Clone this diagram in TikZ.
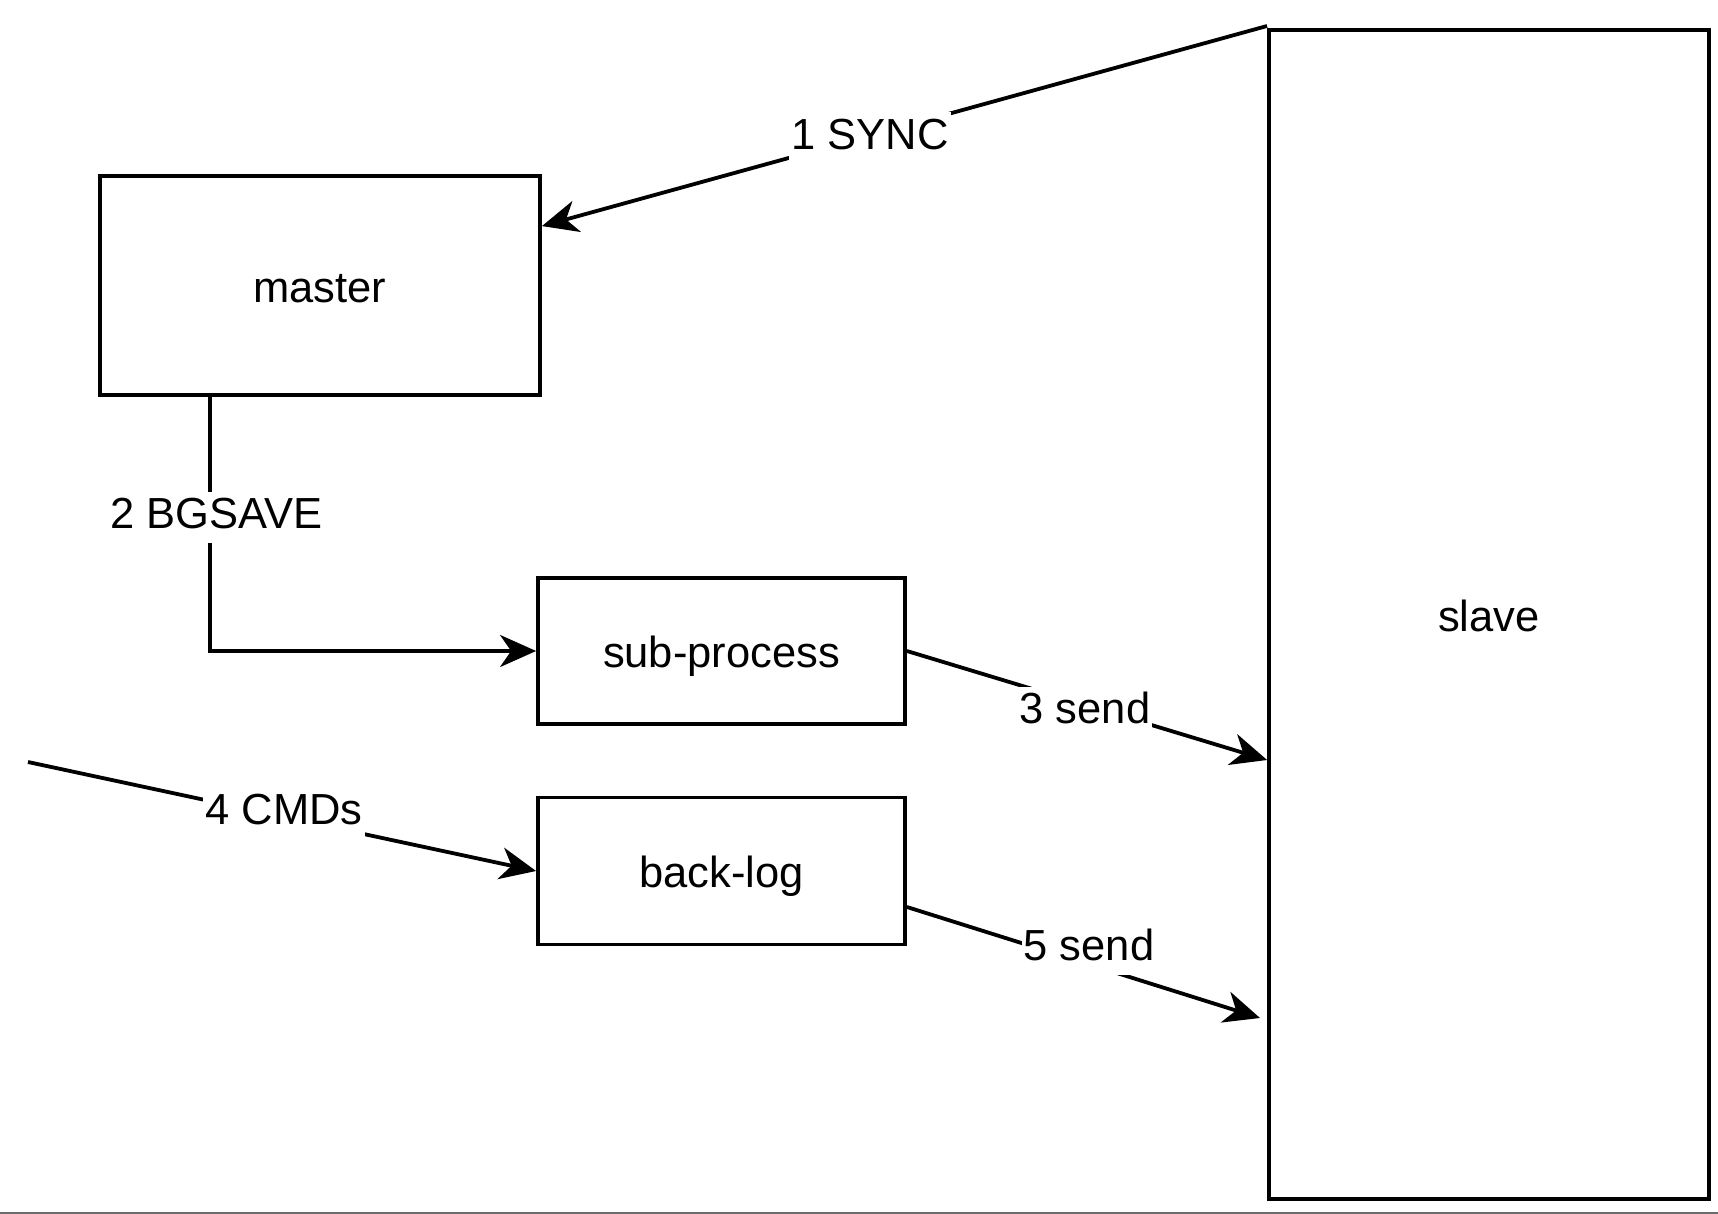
\documentclass[tikz,border=0pt]{standalone}
\usepackage{fontspec}
\setmainfont{Liberation Sans}
\usetikzlibrary{arrows.meta}
\begin{document}
\begin{tikzpicture}[x=0.5pt,y=-0.5pt,
  every node/.style={font=\fontsize{21.75}{26}\selectfont},
  box/.style={draw=black,line width=1.9pt,fill=white,inner sep=0pt,text height=16.5pt,text depth=0pt},
  conn/.style={line width=1.9pt,-{Stealth[length=18pt,width=16pt,inset=5.5pt]}},
  lbl/.style={fill=white,inner xsep=1pt,inner ysep=1pt,text height=17.5pt,text depth=6pt}]
\useasboundingbox (0,0) rectangle (1718,1214);
\fill[white] (0,0) rectangle (1718,1214);
\fill[black!58] (0,1211.5) rectangle (1718,1214);
% boxes
\node[box,minimum width=220pt,minimum height=109.5pt] (master) at (320,285.5) {master};
\node[box,minimum width=183.5pt,minimum height=73pt] (sub) at (721.5,651) {sub-process};
\node[box,minimum width=183.5pt,minimum height=73.5pt] (back) at (721.5,871) {back-log};
\node[box,minimum width=220pt,minimum height=584.5pt] (slave) at (1489,614.5) {slave};
% free ends
\coordinate (s1) at (1267,26);
\coordinate (c4) at (28,762);
\coordinate (e5) at (1260,1018);
% connectors
\draw[conn] (s1) -- ([yshift=-26pt]master.north east);
\draw[conn] ([xshift=-55pt]master.south) |- (sub.west);
\draw[conn] (sub.east) -- ([yshift=-72.75pt]slave.west);
\draw[conn] (c4) -- (back.west);
\draw[conn] ([yshift=-18pt]back.east) -- (e5);
% labels
\node[lbl] (l1) at (870,138) {1 SYNC};
\node[lbl] (l2) at (216.5,517) {2 BGSAVE};
\node[lbl] (l3) at (1085,712) {3 send};
\node[lbl] (l4) at (284,813) {4 CMDs};
\node[lbl] (l5) at (1089,949) {5 send};
\end{tikzpicture}
\end{document}
